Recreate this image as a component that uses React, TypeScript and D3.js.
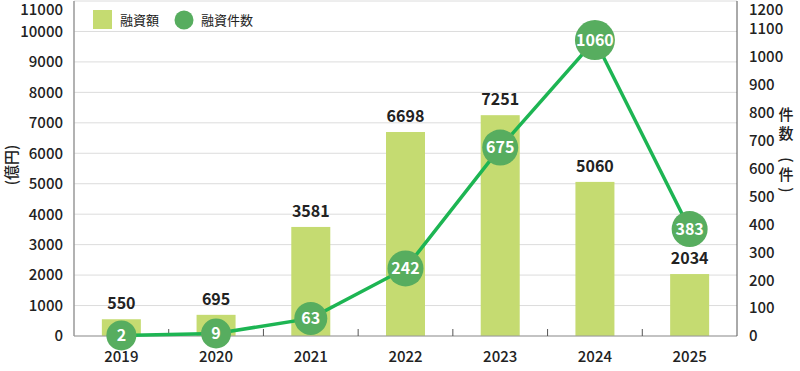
import React from "react";
import * as d3 from "d3";

const years = ["2019", "2020", "2021", "2022", "2023", "2024", "2025"];
const amounts = [550, 695, 3581, 6698, 7251, 5060, 2034];
const counts = [2, 9, 63, 242, 675, 1060, 383];
const leftTicks = [0, 1000, 2000, 3000, 4000, 5000, 6000, 7000, 8000, 9000, 10000, 11000];
const rightTicks = [0, 100, 200, 300, 400, 500, 600, 700, 800, 900, 1000, 1100, 1200];

const W = 800, H = 371;
const L = 74, R = 737, T = 1, B = 336;
const FONT = "'Noto Sans CJK JP', 'Noto Sans', sans-serif";

export default function App() {
  const x = d3.scaleBand().domain(years).range([L, R]);
  const yL = d3.scaleLinear().domain([0, 11000]).range([B, T]);
  const yR = d3.scaleLinear().domain([0, 1200]).range([B, T]);
  const bw = 39;
  const line = d3.line<number>().x((_, i) => x(years[i])! + x.bandwidth() / 2).y((d) => yR(d));
  const rad = (v: number) => [15, 15, 16.5, 18, 20][String(v).length];

  return (
    <svg width={W} height={H} style={{ position: "absolute", left: 0, top: 0 }} fontFamily={FONT}>
      {leftTicks.map((t) => (
        <line key={"g" + t} x1={L} x2={R} y1={yL(t)} y2={yL(t)} stroke="#dcdcdc" strokeWidth={1} />
      ))}
      {amounts.map((v, i) => (
        <rect key={"b" + i} x={x(years[i])! + x.bandwidth() / 2 - bw / 2} y={yL(v)} width={bw} height={B - yL(v)} fill="#c5db71" />
      ))}
      <line x1={L} x2={R} y1={B} y2={B} stroke="#999" strokeWidth={1} />
      <line x1={L} x2={L} y1={T} y2={B} stroke="#999" strokeWidth={1.5} />
      <line x1={R} x2={R} y1={T} y2={B} stroke="#555" strokeWidth={1} />
      {years.slice(1).map((y) => (
        <line key={"tk" + y} x1={x(y)!} x2={x(y)!} y1={B} y2={B - 7} stroke="#555" strokeWidth={1} />
      ))}
      {leftTicks.map((t) => (
        <text key={"lt" + t} x={63} y={Math.max(yL(t), 10)} dy="0.36em" textAnchor="end" fontSize={15} fill="#222" fontWeight={500}>{t}</text>
      ))}
      {rightTicks.map((t) => (
        <text key={"rt" + t} x={749} y={Math.max(yR(t), 10)} dy="0.36em" textAnchor="start" fontSize={15} fill="#222" fontWeight={500}>{t}</text>
      ))}
      {years.map((y) => (
        <text key={"xl" + y} x={x(y)! + x.bandwidth() / 2} y={357} dy="0.36em" textAnchor="middle" fontSize={15} fill="#222" fontWeight={500}>{y}</text>
      ))}
      {amounts.map((v, i) => (
        <text key={"bl" + i} x={x(years[i])! + x.bandwidth() / 2} y={yL(v) - 10} textAnchor="middle" fontSize={16} fontWeight={700} fill="#222">{v}</text>
      ))}
      <path d={line(counts)!} fill="none" stroke="#1db553" strokeWidth={3.5} />
      {counts.map((v, i) => (
        <g key={"c" + i}>
          <circle cx={x(years[i])! + x.bandwidth() / 2} cy={yR(v)} r={rad(v)} fill="#57ad5f" />
          <text x={x(years[i])! + x.bandwidth() / 2} y={yR(v)} dy="0.36em" textAnchor="middle" fontSize={16} fontWeight={700} fill="#fff">{v}</text>
        </g>
      ))}
      <text transform="translate(12,165) rotate(-90)" textAnchor="middle" dy="0.36em" fontSize={15} fill="#222" fontWeight={500}>(億円)</text>
      <text x={786} y={115} dy="0.36em" textAnchor="middle" fontSize={15} fill="#222" fontWeight={500}>件</text>
      <text x={786} y={134} dy="0.36em" textAnchor="middle" fontSize={15} fill="#222" fontWeight={500}>数</text>
      <text transform="translate(786,160) rotate(90)" dy="0.36em" textAnchor="middle" fontSize={15} fill="#222" fontWeight={500}>(</text>
      <text x={786} y={175} dy="0.36em" textAnchor="middle" fontSize={15} fill="#222" fontWeight={500}>件</text>
      <text transform="translate(786,190) rotate(90)" dy="0.36em" textAnchor="middle" fontSize={15} fill="#222" fontWeight={500}>)</text>
      <rect x={93} y={10} width={19} height={19} fill="#c5db71" />
      <text x={120} y={20} dy="0.36em" fontSize={13} fill="#222">融資額</text>
      <circle cx={184} cy={20} r={9.5} fill="#57ad5f" />
      <text x={201} y={20} dy="0.36em" fontSize={13} fill="#222">融資件数</text>
    </svg>
  );
}
